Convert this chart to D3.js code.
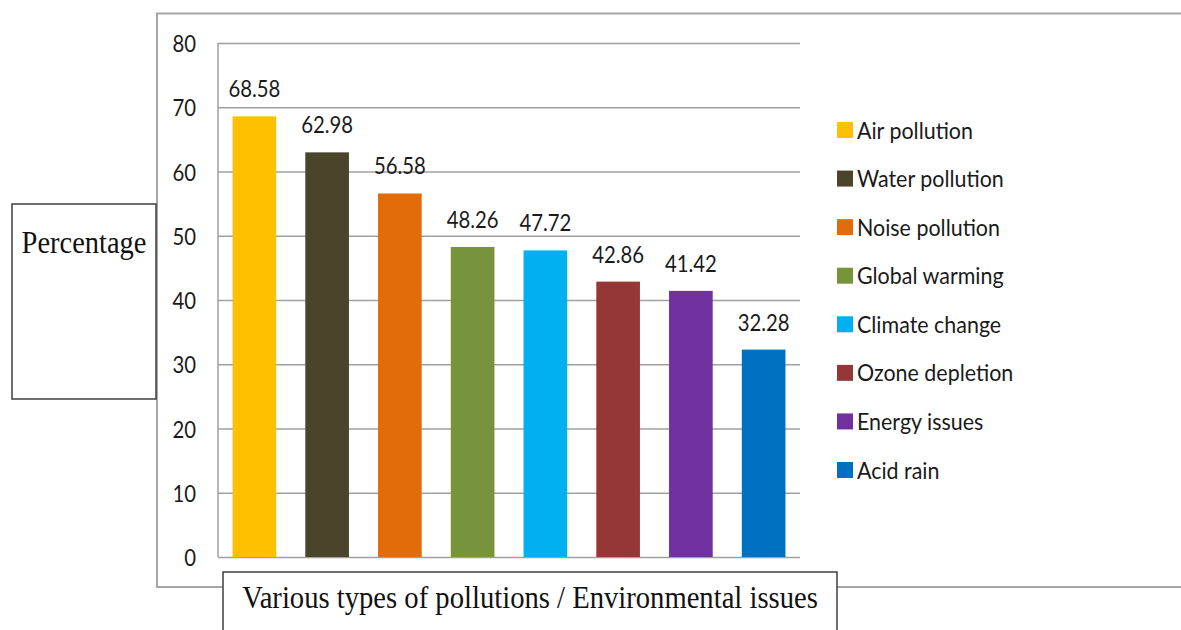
<!DOCTYPE html>
<html>
<head>
<meta charset="utf-8">
<script src="https://cdn.jsdelivr.net/npm/d3@7"></script>
<style>
  html, body { margin: 0; padding: 0; background: #fff; }
  svg { display: block; }
</style>
</head>
<body>
<svg id="chart" width="1181" height="630"></svg>
<script>
const categories = ["Air pollution", "Water pollution", "Noise pollution", "Global warming",
                    "Climate change", "Ozone depletion", "Energy issues", "Acid rain"];
const values = [68.58, 62.98, 56.58, 48.26, 47.72, 42.86, 41.42, 32.28];
const colors = ["#FFC000", "#4A452A", "#E36C0A", "#77933C", "#00B0F0", "#953735", "#7030A0", "#0070C0"];
const yTicks = [0, 10, 20, 30, 40, 50, 60, 70, 80];
const yTitle = "Percentage";
const xTitle = "Various types of pollutions / Environmental issues";

const svg = d3.select("#chart");
const sansFont = "Lato, 'Open Sans', sans-serif";
const serifFont = "'Liberation Serif', 'DejaVu Serif', serif";

// measurement helper for horizontal condensing
function measure(str, font, size) {
  const t = svg.append("text").attr("font-family", font).attr("font-size", size).text(str);
  const w = t.node().getComputedTextLength();
  t.remove();
  return w;
}
const sansSize = 24;
const sxDigits = 52 / measure("68.58", sansFont, sansSize);
const sxText = 116 / measure("Air pollution", sansFont, sansSize);

const plotL = 218, plotR = 800, plotT = 43, plotB = 557;
const x = d3.scaleBand().domain(categories).range([plotL, plotR]).paddingInner(0.4).paddingOuter(0.2);
const y = d3.scaleLinear().domain([0, 80]).range([plotB, plotT]);

// outer frame (open on right)
const frameColor = "#a6a6a6";
svg.append("path")
  .attr("d", `M1181,13.5 H157 V587 H1181`)
  .attr("fill", "none").attr("stroke", frameColor).attr("stroke-width", 2);

// gridlines + axis labels
const axis = d3.axisLeft(y).tickValues(yTicks).tickSize(-(plotR - plotL)).tickPadding(0);
const gAxis = svg.append("g").attr("transform", `translate(${plotL},0)`).call(axis);
gAxis.select(".domain").attr("stroke", "#a0a0a0").attr("stroke-width", 1.5)
  .attr("d", `M0,${plotT}V${plotB}`);
gAxis.selectAll(".tick line").attr("stroke", "#a0a0a0").attr("stroke-width", 1.5);
gAxis.selectAll(".tick text")
  .attr("x", null).attr("dy", null)
  .attr("transform", `translate(-22,8.5) scale(${sxDigits},1)`)
  .attr("text-anchor", "end")
  .attr("font-family", sansFont).attr("font-size", sansSize)
  .attr("fill", "#1a1a1a");

// bars
svg.append("g").selectAll("rect").data(values).join("rect")
  .attr("x", (d, i) => x(categories[i]))
  .attr("y", d => y(d))
  .attr("width", x.bandwidth())
  .attr("height", d => y(0) - y(d))
  .attr("fill", (d, i) => colors[i]);

// value labels
svg.append("g").selectAll("text").data(values).join("text")
  .attr("transform", (d, i) => `translate(${x(categories[i]) + x.bandwidth() / 2},${y(d) - 19}) scale(${sxDigits},1)`)
  .attr("text-anchor", "middle")
  .attr("font-family", sansFont).attr("font-size", sansSize)
  .attr("fill", "#1a1a1a")
  .text(d => d.toFixed(2));

// legend
const legendY = d3.scalePoint().domain(categories).range([130, 470]);
const lg = svg.append("g").selectAll("g").data(categories).join("g")
  .attr("transform", d => `translate(837,${legendY(d)})`);
lg.append("rect").attr("x", 0).attr("y", -8).attr("width", 16).attr("height", 16)
  .attr("fill", (d, i) => colors[i]);
lg.append("text")
  .attr("transform", `translate(20,8.5) scale(${sxText},1)`)
  .attr("font-family", sansFont).attr("font-size", sansSize)
  .attr("fill", "#1a1a1a")
  .text(d => d);

// y title box
svg.append("rect").attr("x", 12).attr("y", 204).attr("width", 144).attr("height", 195)
  .attr("fill", "#fff").attr("stroke", "#3f3f3f").attr("stroke-width", 1.5);
const sxY = 125 / measure(yTitle, serifFont, 32);
svg.append("text")
  .attr("transform", `translate(84,253) scale(${sxY},1)`)
  .attr("text-anchor", "middle")
  .attr("font-family", serifFont).attr("font-size", 32)
  .attr("fill", "#111")
  .text(yTitle);

// x title box
svg.append("rect").attr("x", 223).attr("y", 572).attr("width", 614).attr("height", 80)
  .attr("fill", "#fff").attr("stroke", "#3f3f3f").attr("stroke-width", 1.5);
const sxX = 576 / measure(xTitle, serifFont, 31);
svg.append("text")
  .attr("transform", `translate(530,608) scale(${sxX},1)`)
  .attr("text-anchor", "middle")
  .attr("font-family", serifFont).attr("font-size", 31)
  .attr("fill", "#111")
  .text(xTitle);
</script>
</body>
</html>
